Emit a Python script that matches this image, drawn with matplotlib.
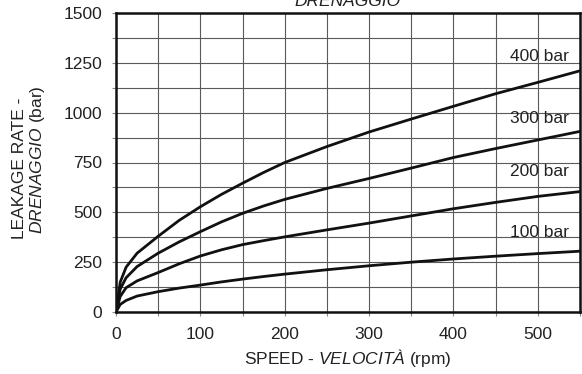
import numpy as np
import matplotlib
matplotlib.use("Agg")
import matplotlib.pyplot as plt
from matplotlib.ticker import MultipleLocator

plt.rcParams['font.family'] = ['Liberation Sans', 'DejaVu Sans']
plt.rcParams['mathtext.fontset'] = 'custom'
plt.rcParams['mathtext.it'] = 'Liberation Sans:italic'
plt.rcParams['mathtext.rm'] = 'Liberation Sans'

# speed (rpm)
speed = [0, 5, 12, 25, 50, 75, 100, 125, 150, 175, 200, 250, 300, 350, 400, 450, 500, 550]

# leakage
leak_400 = [0, 150, 225, 295, 380, 460, 528, 590, 646, 700, 750, 830, 903, 968, 1032, 1095, 1152, 1210]
leak_300 = [0, 115, 172, 228, 295, 352, 403, 452, 495, 532, 565, 620, 670, 722, 775, 820, 863, 906]
leak_200 = [0, 78, 122, 156, 198, 242, 281, 312, 338, 358, 377, 412, 446, 482, 518, 550, 580, 604]
leak_100 = [0, 38, 58, 80, 102, 120, 135, 151, 165, 178, 190, 212, 232, 250, 266, 280, 293, 305]

series = [leak_100, leak_200, leak_300, leak_400]
labels = ["100 bar", "200 bar", "300 bar", "400 bar"]
label_y = [401, 707, 973, 1280]
label_x = 502

txt_col = "#222222"
fs = 12.5

fig = plt.figure(figsize=(5.82, 3.74), dpi=100)
ax = fig.add_axes([116 / 582, 1 - 312 / 374, 464 / 582, 299 / 374])

for vals in series:
    ax.plot(speed, vals, color="#111111", lw=2.0, solid_joinstyle="round")

for lab, ly in zip(labels, label_y):
    ax.text(label_x, ly, lab, ha="center", va="center", fontsize=fs, color=txt_col)

ax.set_xlim(0, 550)
ax.set_ylim(0, 1500)
ax.xaxis.set_major_locator(MultipleLocator(100))
ax.xaxis.set_minor_locator(MultipleLocator(50))
ax.yaxis.set_major_locator(MultipleLocator(250))
ax.yaxis.set_minor_locator(MultipleLocator(125))
ax.grid(True, which="both", color="#5a5a5a", lw=0.8)
ax.set_axisbelow(True)

ax.tick_params(which="both", direction="out", length=3, width=0.8,
               color="#888888", labelsize=fs, labelcolor=txt_col)
ax.tick_params(axis="y", pad=7)
ax.tick_params(axis="x", pad=8)

for sp in ax.spines.values():
    sp.set_linewidth(1.8)
    sp.set_color("#111111")

# title sits partly above the top edge, as in the source image
fig.text(348 / 582, 1 - 6 / 374, "DRENAGGIO", ha="center", va="baseline",
         fontsize=fs, style="italic", color=txt_col)
fig.text(348 / 582, 1 - 358 / 374, r"SPEED - $\mathit{VELOCITÀ}$ (rpm)",
         ha="center", va="center", fontsize=fs, color=txt_col)
fig.text(19.5 / 582, 1 - 168 / 374, "LEAKAGE RATE -", rotation=90,
         ha="center", va="center", fontsize=fs, color=txt_col)
fig.text(37.5 / 582, 1 - 160 / 374, r"$\mathit{DRENAGGIO}$ (bar)", rotation=90,
         ha="center", va="center", fontsize=fs, color=txt_col)

fig.savefig("out.png", dpi=100)
